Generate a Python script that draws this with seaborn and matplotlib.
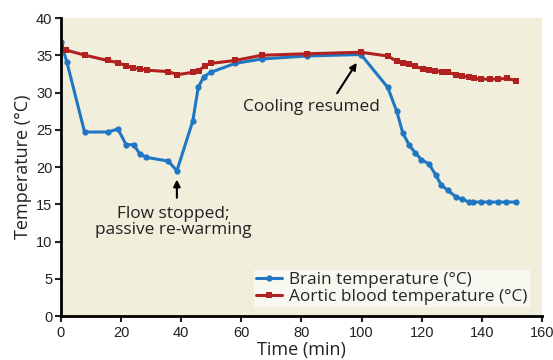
import matplotlib
matplotlib.use("Agg")
import matplotlib.pyplot as plt
import matplotlib.font_manager as fm
import pandas as pd
import seaborn as sns

# data
brain_time = [0, 2, 7.9, 15.6, 19, 21.7, 24.2, 26.2, 28.4, 35.7, 38.6, 43.9, 45.7, 47.5,
              49.8, 57.9, 66.8, 81.8, 99.8, 108.7, 111.7, 113.7, 115.9, 117.9, 119.9,
              122.5, 124.7, 126.5, 128.6, 131.4, 133.4, 135.8, 137.1, 139.8, 142.5,
              145.3, 148, 151.3]
brain_temp = [36.8, 34.1, 24.7, 24.7, 25.1, 23.0, 23.0, 21.8, 21.3, 20.8, 19.5, 26.2, 30.7, 32.1,
              32.7, 33.9, 34.5, 34.9, 35.1, 30.7, 27.5, 24.6, 22.9, 21.9, 21.0,
              20.4, 18.9, 17.6, 16.9, 16.0, 15.7, 15.3, 15.3, 15.3, 15.3,
              15.3, 15.3, 15.3]

aortic_time = [0, 1.7, 8.1, 15.6, 19, 21.7, 24, 26.2, 28.6, 35.7, 38.8, 43.8, 45.8, 47.9,
               49.8, 57.9, 66.8, 81.8, 99.8, 108.7, 111.7, 113.7, 115.8, 117.8, 120.3,
               122.4, 124.4, 126.6, 128.8, 131.3, 133.5, 135.7, 137.4, 139.8, 142.7,
               145.5, 148.3, 151.4]
aortic_temp = [36.1, 35.7, 35.0, 34.3, 34.0, 33.6, 33.3, 33.2, 33.0, 32.8, 32.4, 32.7, 32.9, 33.6,
               33.9, 34.3, 35.0, 35.2, 35.4, 34.9, 34.2, 34.0, 33.8, 33.5, 33.2,
               33.0, 32.9, 32.8, 32.7, 32.4, 32.2, 32.1, 31.9, 31.8, 31.8,
               31.8, 31.9, 31.6]

sns.set_style("ticks")
names = {f.name for f in fm.fontManager.ttflist}
main_font = "Liberation Sans Narrow" if "Liberation Sans Narrow" in names else "Liberation Sans"
plt.rcParams['font.family'] = [main_font, 'DejaVu Sans']
text_font = ['Open Sans', 'DejaVu Sans']

blue = "#1f77c4"
red = "#b0211f"

df_brain = pd.DataFrame({"t": brain_time, "T": brain_temp})
df_aortic = pd.DataFrame({"t": aortic_time, "T": aortic_temp})

fig = plt.figure(figsize=(5.53, 3.6), dpi=100)
ax = fig.add_axes([0.110, 0.122, 0.870, 0.828])
ax.set_facecolor("#f1eedc")

sns.lineplot(data=df_brain, x="t", y="T", ax=ax, color=blue, lw=2.2, marker="o",
             markersize=4.5, markeredgewidth=0, sort=False, label="Brain temperature (°C)")
sns.lineplot(data=df_aortic, x="t", y="T", ax=ax, color=red, lw=2.2, marker="s",
             markersize=4, markeredgewidth=0, sort=False, label="Aortic blood temperature (°C)")

ax.set_xlim(0, 160)
ax.set_ylim(0, 40)
ax.set_xticks(range(0, 161, 20))
ax.set_yticks(range(0, 41, 5))
ax.tick_params(labelsize=10.5, length=4, width=1.5, pad=2, colors="#222222")
ax.tick_params(axis="x", pad=3)
for s in ["top", "right"]:
    ax.spines[s].set_visible(False)
for s in ["left", "bottom"]:
    ax.spines[s].set_linewidth(2)
    ax.spines[s].set_color("black")

ax.set_xlabel("Time (min)", fontsize=13, family=text_font, labelpad=1, color="#222222")
ax.set_ylabel("Temperature (°C)", fontsize=13, family=text_font, labelpad=3, color="#222222")

ax.annotate("", xy=(38.6, 18.7), xytext=(38.6, 15.5),
            arrowprops=dict(arrowstyle="-|>", color="black", lw=1.5, mutation_scale=10))
ax.text(37.3, 12.6, "Flow stopped;\npassive re-warming", ha="center", va="center",
        fontsize=12.4, family=text_font, color="#222222", linespacing=1.05)

ax.annotate("", xy=(98.9, 34.3), xytext=(91.4, 29.6),
            arrowprops=dict(arrowstyle="-|>", color="black", lw=1.5, mutation_scale=10))
ax.text(83.5, 28.0, "Cooling resumed", ha="center", va="center",
        fontsize=12.4, family=text_font, color="#222222")

leg = ax.legend(loc="lower right", bbox_to_anchor=(0.975, 0.03), frameon=True,
                fancybox=False, framealpha=1, prop={"family": text_font, "size": 12.4},
                handlelength=1.5, borderpad=0.15, labelspacing=0.0, handletextpad=0.4,
                borderaxespad=0)
leg.get_frame().set_facecolor("#f8f7f0")
leg.get_frame().set_edgecolor("none")

fig.savefig("out.png", dpi=100)
